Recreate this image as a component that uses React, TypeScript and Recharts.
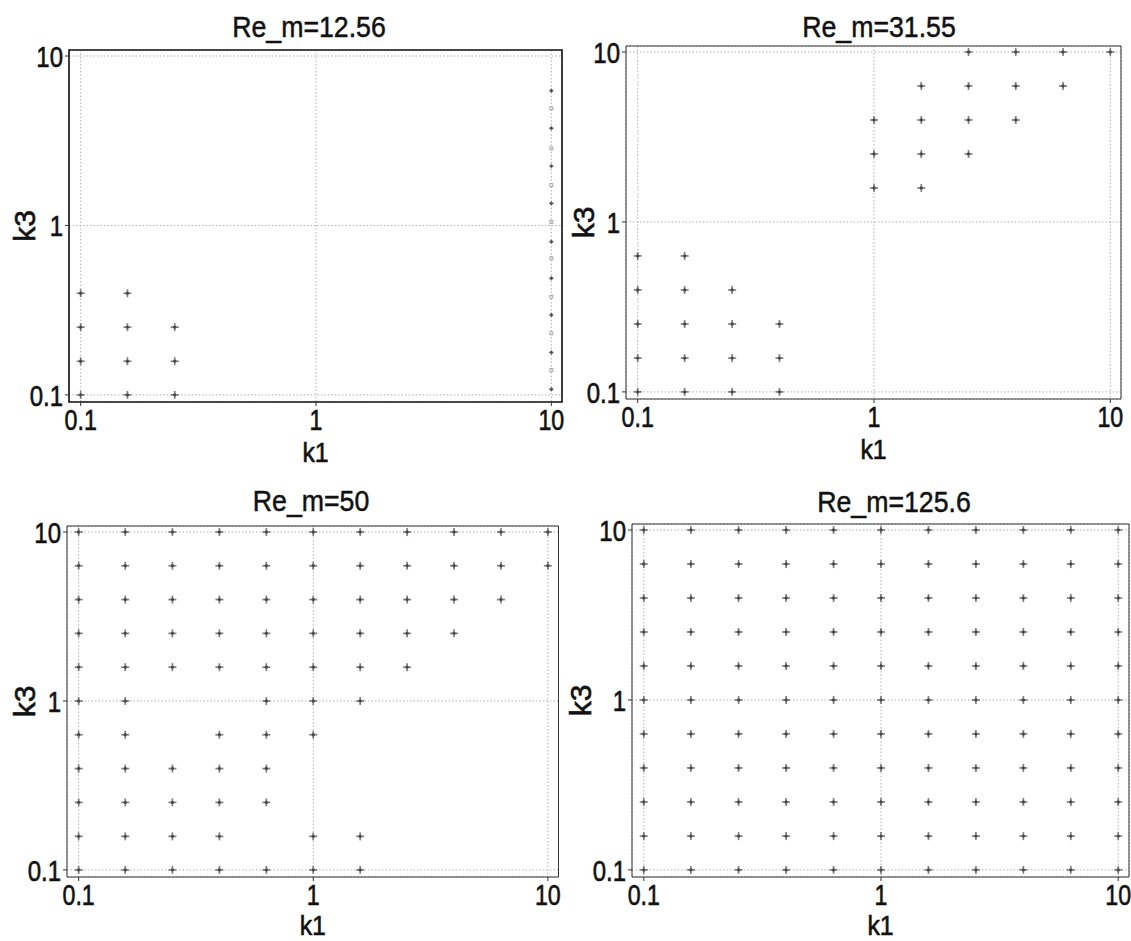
import React from "react";
import { ScatterChart, Scatter, XAxis, YAxis, CartesianGrid, ReferenceArea } from "recharts";

// grid levels used by the parameter sweep (k1 and k3 share them)
const K_LEVELS = [0.1, 0.158, 0.251, 0.398, 0.631, 1, 1.585, 2.512, 3.981, 6.31, 10];
const AXIS_TICKS = [0.1, 1, 10];
const X_DOMAIN = [0.0892, 11.1];
const Y_DOMAIN = [0.0908, 10.85];

// each row: a k3 level and the k1 values marked on it
const RE_1256_ROWS = [
  { k3: 0.1, k1: [0.1, 0.158, 0.251] },
  { k3: 0.158, k1: [0.1, 0.158, 0.251] },
  { k3: 0.251, k1: [0.1, 0.158, 0.251] },
  { k3: 0.398, k1: [0.1, 0.158] },
];
// faint marks along the right edge (k1 = 10) of the first panel
const RE_1256_EDGE_PLUS = [6.24, 3.75, 2.24, 1.35, 0.802, 0.488, 0.296, 0.178, 0.108];
const RE_1256_EDGE_SQUARE = [4.91, 2.85, 1.73, 1.05, 0.64, 0.38, 0.231, 0.14];

const RE_3155_ROWS = [
  { k3: 0.1, k1: [0.1, 0.158, 0.251, 0.398] },
  { k3: 0.158, k1: [0.1, 0.158, 0.251, 0.398] },
  { k3: 0.251, k1: [0.1, 0.158, 0.251, 0.398] },
  { k3: 0.398, k1: [0.1, 0.158, 0.251] },
  { k3: 0.631, k1: [0.1, 0.158] },
  { k3: 1.585, k1: [1, 1.585] },
  { k3: 2.512, k1: [1, 1.585, 2.512] },
  { k3: 3.981, k1: [1, 1.585, 2.512, 3.981] },
  { k3: 6.31, k1: [1.585, 2.512, 3.981, 6.31] },
  { k3: 10, k1: [2.512, 3.981, 6.31, 10] },
];

const RE_50_ROWS = [
  { k3: 0.1, k1: [0.1, 0.158, 0.251, 0.398, 0.631, 1, 1.585] },
  { k3: 0.158, k1: [0.1, 0.158, 0.251, 0.398, 1, 1.585] },
  { k3: 0.251, k1: [0.1, 0.158, 0.251, 0.398, 0.631] },
  { k3: 0.398, k1: [0.1, 0.158, 0.251, 0.398, 0.631] },
  { k3: 0.631, k1: [0.1, 0.158, 0.398, 0.631, 1] },
  { k3: 1, k1: [0.1, 0.158, 0.631, 1, 1.585] },
  { k3: 1.585, k1: [0.1, 0.158, 0.251, 0.398, 0.631, 1, 1.585, 2.512] },
  { k3: 2.512, k1: [0.1, 0.158, 0.251, 0.398, 0.631, 1, 1.585, 2.512, 3.981] },
  { k3: 3.981, k1: [0.1, 0.158, 0.251, 0.398, 0.631, 1, 1.585, 2.512, 3.981, 6.31] },
  { k3: 6.31, k1: K_LEVELS },
  { k3: 10, k1: K_LEVELS },
];

const RE_1256B_ROWS = [
  { k3: 0.1, k1: K_LEVELS },
  { k3: 0.158, k1: K_LEVELS },
  { k3: 0.251, k1: K_LEVELS },
  { k3: 0.398, k1: K_LEVELS },
  { k3: 0.631, k1: K_LEVELS },
  { k3: 1, k1: K_LEVELS },
  { k3: 1.585, k1: K_LEVELS },
  { k3: 2.512, k1: K_LEVELS },
  { k3: 3.981, k1: K_LEVELS },
  { k3: 6.31, k1: K_LEVELS },
  { k3: 10, k1: K_LEVELS },
];

const FONT = "'Liberation Sans', Arial, sans-serif";
const NARROW = 0.8; // squeeze to look like the condensed face of the original
const INK = "#111";
const YW = 70;
const MT = 10;
const MR = 12;
const XH = 75;

const toPoints = (rows: { k3: number; k1: number[] }[]) =>
  rows.flatMap(r => r.k1.map(k1 => ({ k1, k3: r.k3 })));

const Plus = ({ cx, cy, s = 4, color = "#6a6262", w = 1.7 }: any) => (
  <g>
    <line x1={cx - s} x2={cx + s} y1={cy} y2={cy} stroke={color} strokeWidth={w} opacity={0.8} />
    <line x1={cx} x2={cx} y1={cy - s} y2={cy + s} stroke={color} strokeWidth={w} opacity={0.8} />
    <circle cx={cx} cy={cy} r={1.7} fill="#3f3a3a" opacity={0.75} />
  </g>
);

const Square = ({ cx, cy }: any) => (
  <rect x={cx - 1.5} y={cy - 1.5} width={3} height={3} fill="none" stroke="#999" strokeWidth={0.8} />
);

const XTick = ({ x, y, payload }: any) => (
  <text transform={`translate(${x},${y}) scale(${NARROW},1)`} textAnchor="middle" dy="0.71em"
    fontSize={29} fontFamily={FONT} fill={INK} stroke={INK} strokeWidth={0.6}>{String(payload.value)}</text>
);

const YTick = ({ x, y, payload }: any) => (
  <text transform={`translate(${x},${y}) scale(${NARROW},1)`} textAnchor="end" dy="0.355em"
    fontSize={30} fontFamily={FONT} fill={INK} stroke={INK} strokeWidth={0.6}>{String(payload.value)}</text>
);

type PanelProps = {
  L: number; T: number; R: number; B: number;
  rows: { k3: number; k1: number[] }[];
  k3Off?: number;
  k1Base?: number;
  edgePlus?: number[];
  edgeSquare?: number[];
  frameW?: number;
  frameColor?: string;
};

function Panel({ L, T, R, B, rows, k3Off = 45, k1Base = 60, edgePlus, edgeSquare, frameW = 1, frameColor = "#333" }: PanelProps) {
  const width = R - L + YW + MR;
  const height = B - T + MT + XH;
  const pts = toPoints(rows);
  return (
    <div style={{ position: "absolute", left: L - YW, top: T - MT }}>
      <ScatterChart width={width} height={height} margin={{ top: MT, right: MR, left: 0, bottom: 0 }}>
        <CartesianGrid stroke="#b3b0b0" strokeDasharray="1.5 2" />
        <XAxis
          type="number" dataKey="k1" scale="log" domain={X_DOMAIN} allowDataOverflow
          ticks={AXIS_TICKS} height={XH} axisLine={false} tickSize={4} tickMargin={3}
          tickLine={{ stroke: "#333" }} tick={<XTick />} interval={0}
          label={(p: any) => {
            const vb = p.viewBox;
            const cx = vb.x + vb.width / 2;
            const by = vb.y + k1Base;
            return (
              <text transform={`translate(${cx},${by}) scale(0.92,1)`} textAnchor="middle"
                fontSize={27} fontFamily={FONT} fill={INK} stroke={INK} strokeWidth={0.6}>k1</text>
            );
          }}
        />
        <YAxis
          type="number" dataKey="k3" scale="log" domain={Y_DOMAIN} allowDataOverflow
          ticks={AXIS_TICKS} width={YW} axisLine={false} tickSize={4} tickMargin={2}
          tickLine={{ stroke: "#333" }} tick={<YTick />} interval={0}
          label={(p: any) => {
            const vb = p.viewBox;
            const cx = vb.x + vb.width - k3Off;
            const cy = vb.y + vb.height / 2;
            return (
              <text x={cx} y={cy} textAnchor="middle" dy="0.36em"
                transform={`rotate(-90, ${cx}, ${cy})`} fontSize={30} fontFamily={FONT}
                fill={INK} stroke={INK} strokeWidth={0.6}>k3</text>
            );
          }}
        />
        <ReferenceArea x1={X_DOMAIN[0]} x2={X_DOMAIN[1]} y1={Y_DOMAIN[0]} y2={Y_DOMAIN[1]}
          fill="none" fillOpacity={0} stroke={frameColor} strokeWidth={frameW} ifOverflow="visible" />
        <Scatter data={pts} isAnimationActive={false} shape={(p: any) => <Plus cx={p.cx} cy={p.cy} />} />
        {edgePlus && (
          <Scatter data={edgePlus.map(k3 => ({ k1: 10, k3 }))} isAnimationActive={false}
            shape={(p: any) => <Plus cx={p.cx} cy={p.cy} s={2.5} w={1} color="#888" />} />
        )}
        {edgeSquare && (
          <Scatter data={edgeSquare.map(k3 => ({ k1: 10, k3 }))} isAnimationActive={false}
            shape={(p: any) => <Square cx={p.cx} cy={p.cy} />} />
        )}
      </ScatterChart>
    </div>
  );
}

const TITLES = [
  { text: "Re_m=12.56", x: 309, y: 37 },
  { text: "Re_m=31.55", x: 879, y: 37 },
  { text: "Re_m=50", x: 311, y: 511 },
  { text: "Re_m=125.6", x: 894, y: 512 },
];

export default function App() {
  return (
    <div style={{ position: "absolute", left: 0, top: 0, width: 1131, height: 941, background: "#fff", overflow: "hidden" }}>
      <Panel L={69} T={50} R={562} B={402} rows={RE_1256_ROWS}
        edgePlus={RE_1256_EDGE_PLUS} edgeSquare={RE_1256_EDGE_SQUARE} frameW={1.6} frameColor="#111" />
      <Panel L={626} T={46} R={1121} B={399} rows={RE_3155_ROWS} k3Off={43} />
      <Panel L={66.5} T={526} R={558} B={877} rows={RE_50_ROWS} k1Base={58} k3Off={43} />
      <Panel L={631.5} T={524} R={1128.5} B={877} rows={RE_1256B_ROWS} k1Base={58} k3Off={52} />
      <svg width={1131} height={941} style={{ position: "absolute", left: 0, top: 0, pointerEvents: "none" }}>
        {TITLES.map(t => (
          <text key={t.text} transform={`translate(${t.x},${t.y}) scale(0.89,1)`} textAnchor="middle"
            fontSize={30} fontFamily={FONT} fill={INK} stroke={INK} strokeWidth={0.5}>{t.text}</text>
        ))}
      </svg>
    </div>
  );
}
